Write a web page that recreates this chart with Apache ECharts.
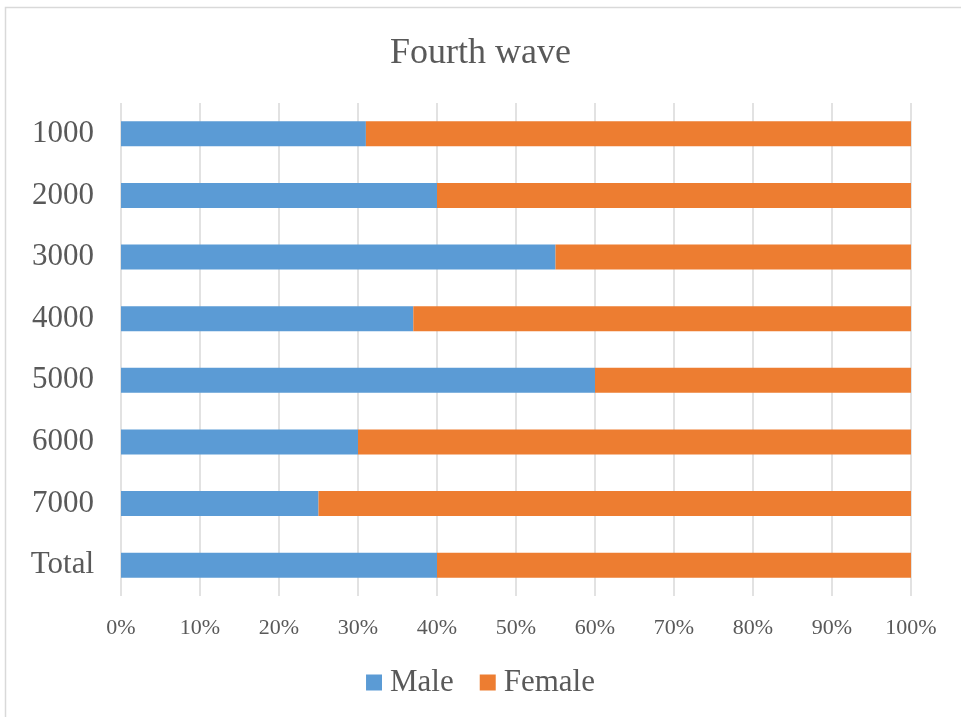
<!DOCTYPE html>
<html>
<head>
<meta charset="utf-8">
<script src="https://cdn.jsdelivr.net/npm/echarts@6/dist/echarts.min.js"></script>
<style>
  * { margin: 0; padding: 0; }
  body { background: #fff; }
  #main { width: 961px; height: 717px; }
</style>
</head>
<body>
<div id="main"></div>
<script>
  // categories (top to bottom)
  var categories = ['1000', '2000', '3000', '4000', '5000', '6000', '7000', 'Total'];
  // share of each group, percent
  var male = [31, 40, 55, 37, 60, 30, 25, 40];
  var female = [69, 60, 45, 63, 40, 70, 75, 60];
  var xTicks = [0, 10, 20, 30, 40, 50, 60, 70, 80, 90, 100];

  var font = '"Liberation Serif", "Times New Roman", serif';
  var chart = echarts.init(document.getElementById('main'));
  chart.setOption({
    animation: false,
    textStyle: { fontFamily: font },
    graphic: [{
      type: 'rect',
      shape: { x: 5.5, y: 7.5, width: 1000, height: 800 },
      style: { fill: 'none', stroke: '#d9d9d9', lineWidth: 1.5 },
      silent: true
    }],
    title: {
      text: 'Fourth wave',
      left: 'center',
      top: 31,
      textStyle: { fontFamily: font, fontSize: 36, fontWeight: 'normal', color: '#595959' }
    },
    legend: {
      bottom: 14,
      left: 'center',
      itemWidth: 16,
      itemHeight: 16,
      itemGap: 26,
      icon: 'rect',
      textStyle: { fontFamily: font, fontSize: 31, color: '#595959', padding: [0, 0, 0, 3] },
      data: ['Male', 'Female']
    },
    grid: { left: 121, right: 50, top: 103, bottom: 121 },
    xAxis: {
      type: 'value',
      min: 0,
      max: 100,
      interval: 10,
      axisLine: { show: false },
      axisTick: { show: false },
      splitLine: { show: true, lineStyle: { color: '#d9d9d9', width: 1.5 } },
      axisLabel: {
        margin: 21,
        fontFamily: font,
        fontSize: 22,
        color: '#595959',
        formatter: function (v) { return xTicks.indexOf(v) >= 0 ? v + '%' : ''; }
      }
    },
    yAxis: {
      type: 'category',
      inverse: true,
      data: categories,
      axisLine: { show: false },
      axisTick: { show: false },
      axisLabel: { margin: 27, fontFamily: font, fontSize: 31, color: '#595959' }
    },
    series: [
      {
        name: 'Male',
        type: 'bar',
        stack: 'total',
        barWidth: 25,
        itemStyle: { color: '#5b9bd5' },
        data: male
      },
      {
        name: 'Female',
        type: 'bar',
        stack: 'total',
        barWidth: 25,
        itemStyle: { color: '#ed7d31' },
        data: female
      }
    ]
  });
</script>
</body>
</html>
